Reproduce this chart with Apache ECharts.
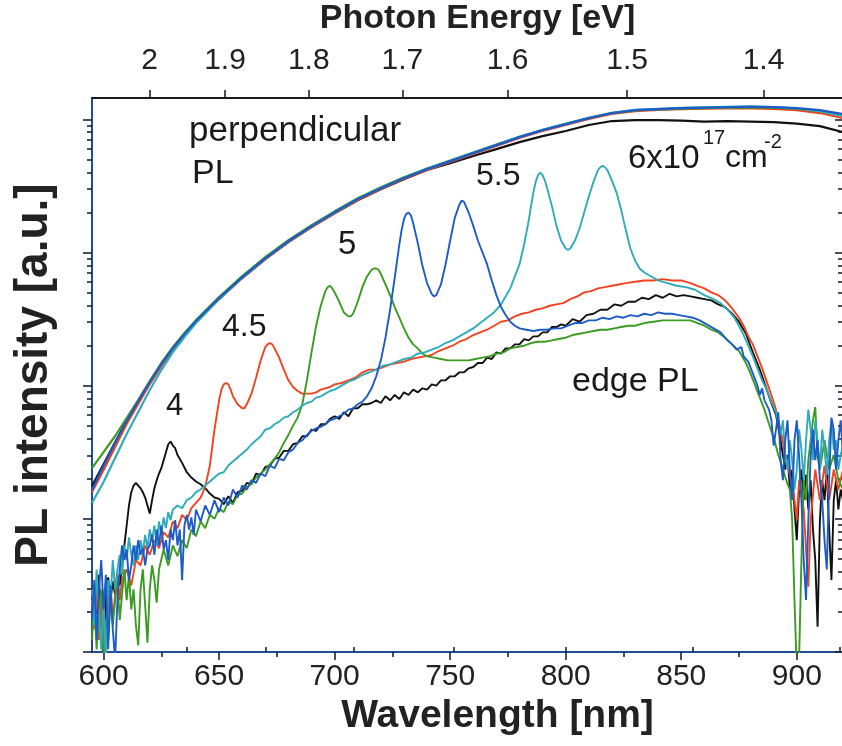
<!DOCTYPE html>
<html>
<head>
<meta charset="utf-8">
<script src="https://cdn.jsdelivr.net/npm/echarts@6/dist/echarts.min.js"></script>
<style>
  html, body { margin: 0; padding: 0; background: #ffffff; }
  #chart { width: 842px; height: 746px; }
</style>
</head>
<body>
<div id="chart"></div>
<script>
// Photon energy <-> wavelength conversion constant (eV * nm)
const HC = 1239.84;

// Axis ticks
const wavelengthTicks = [600, 650, 700, 750, 800, 850, 900];
const wavelengthMinorTicks = [625, 675, 725, 775, 825, 875];
const energyTicks = [2.0, 1.9, 1.8, 1.7, 1.6, 1.5, 1.4];
const energyMinorTicks = [2.05, 1.95, 1.85, 1.75, 1.65, 1.55, 1.45, 1.35];
const intensityDecades = [0, 1, 2, 3, 4];          // log10 of PL intensity
const intensityMinorFactors = [2, 3, 4, 5, 6, 7, 8, 9];

// Perpendicular PL (log10 intensity on a common wavelength grid)
const perpWavelength = [595,600,605,610,615,620,625,630,635,640,650,660,670,680,690,700,710,720,730,740,750,760,770,780,790,800,810,820,830,840,850,860,870,880,890,900,910,920];
const perpBlack = [1.246,1.410,1.575,1.738,1.886,2.027,2.160,2.280,2.384,2.480,2.652,2.808,2.950,3.078,3.190,3.295,3.392,3.474,3.550,3.619,3.671,3.724,3.776,3.829,3.874,3.912,3.957,3.987,3.994,3.994,3.990,3.983,3.987,3.983,3.979,3.968,3.949,3.904];
const perpRed   = [1.201,1.366,1.539,1.712,1.862,2.012,2.147,2.267,2.380,2.477,2.650,2.808,2.950,3.079,3.191,3.296,3.394,3.476,3.553,3.620,3.680,3.740,3.800,3.860,3.913,3.958,4.003,4.040,4.062,4.070,4.076,4.080,4.082,4.082,4.078,4.069,4.047,4.009];
const perpGreen = [1.381,1.501,1.622,1.757,1.892,2.035,2.170,2.290,2.395,2.492,2.665,2.822,2.965,3.092,3.205,3.309,3.407,3.489,3.564,3.630,3.690,3.750,3.810,3.868,3.920,3.966,4.010,4.046,4.066,4.074,4.080,4.084,4.088,4.090,4.087,4.078,4.062,4.030];
const perpCyan  = [1.119,1.276,1.456,1.637,1.802,1.967,2.117,2.252,2.365,2.470,2.650,2.810,2.955,3.083,3.196,3.302,3.401,3.484,3.560,3.628,3.688,3.748,3.808,3.868,3.921,3.966,4.011,4.049,4.071,4.079,4.086,4.090,4.093,4.095,4.091,4.082,4.062,4.025];
const perpBlue  = [1.216,1.396,1.569,1.734,1.884,2.027,2.162,2.282,2.387,2.485,2.658,2.815,2.958,3.086,3.198,3.303,3.401,3.483,3.559,3.626,3.686,3.746,3.806,3.866,3.919,3.964,4.009,4.047,4.069,4.077,4.084,4.088,4.092,4.095,4.092,4.084,4.069,4.039];

// Edge PL, [wavelength nm, log10 intensity]
const edge4 = [[595,0.39],[596,0.50],[597,0.28],[598,0.58],[599,0.17],[600,-0.06],[601,0.47],[602,0.56],[603,0.39],[604,0.53],[605,0.43],[606,0.58],[607,0.50],[608,0.63],[609,0.80],[610,0.95],[611,1.10],[612,1.20],[613,1.25],[614,1.27],[615,1.25],[616,1.23],[617,1.20],[618,1.16],[619,1.10],[620,1.04],[621,1.14],[622,1.23],[623,1.29],[624,1.34],[625,1.38],[626,1.44],[627,1.50],[628,1.56],[629,1.58],[630,1.55],[631,1.53],[632,1.48],[634,1.42],[636,1.35],[638,1.31],[640,1.28],[642,1.26],[644,1.23],[646,1.19],[648,1.16],[650,1.15],[652,1.11],[654,1.17],[656,1.12],[658,1.20],[660,1.21],[662,1.27],[664,1.26],[666,1.34],[668,1.33],[670,1.39],[672,1.40],[674,1.45],[676,1.46],[678,1.51],[680,1.51],[682,1.56],[684,1.57],[686,1.62],[688,1.62],[690,1.67],[692,1.66],[694,1.71],[696,1.71],[698,1.75],[700,1.77],[702,1.75],[704,1.80],[706,1.77],[708,1.83],[710,1.83],[712,1.86],[714,1.86],[716,1.87],[718,1.89],[720,1.87],[722,1.92],[724,1.89],[726,1.93],[728,1.90],[730,1.95],[732,1.93],[734,1.97],[736,1.95],[738,1.98],[740,1.97],[742,2.01],[744,2.00],[746,2.04],[748,2.04],[750,2.07],[752,2.07],[754,2.10],[756,2.10],[758,2.13],[760,2.14],[762,2.17],[764,2.17],[766,2.21],[768,2.20],[770,2.25],[772,2.24],[774,2.28],[776,2.28],[778,2.31],[780,2.31],[782,2.35],[784,2.34],[786,2.37],[788,2.37],[790,2.40],[792,2.40],[794,2.44],[796,2.44],[798,2.46],[800,2.45],[803,2.50],[806,2.48],[809,2.53],[812,2.54],[815,2.57],[818,2.57],[821,2.61],[824,2.60],[827,2.63],[830,2.63],[833,2.66],[836,2.65],[839,2.68],[842,2.66],[845,2.69],[848,2.67],[851,2.68],[854,2.67],[857,2.66],[860,2.65],[863,2.64],[866,2.61],[869,2.59],[872,2.54],[875,2.48],[878,2.39],[881,2.25],[884,2.12],[887,1.97],[889,1.87],[891,1.78],[893,1.59],[895,1.37],[896,1.48],[897,1.22],[898,1.37],[899,1.07],[900,0.84],[901,1.22],[902,1.37],[903,1.14],[904,1.33],[905,1.07],[906,1.29],[907,0.92],[908,0.69],[909,0.19],[910,0.99],[911,1.29],[912,1.14],[913,1.37],[914,0.92],[915,0.54],[916,1.14],[917,1.29],[918,1.07],[919,1.22],[920,1.14]];

const edge45 = [[595,0.39],[596,0.17],[597,0.47],[598,0.09],[599,0.39],[600,0.28],[601,-0.06],[602,0.39],[603,0.50],[604,0.24],[605,0.43],[606,0.58],[607,0.39],[608,0.54],[610,0.62],[612,0.50],[614,0.69],[616,0.65],[618,0.80],[620,0.73],[622,0.84],[624,0.78],[626,0.90],[628,0.86],[630,0.98],[632,0.93],[634,1.03],[636,0.99],[638,1.08],[640,1.12],[642,1.16],[644,1.24],[646,1.40],[648,1.67],[650,1.89],[651,1.97],[652,2.01],[653,2.02],[654,2.01],[655,1.97],[656,1.92],[658,1.86],[660,1.83],[661,1.83],[662,1.86],[664,1.94],[666,2.06],[668,2.19],[670,2.29],[671,2.31],[672,2.32],[673,2.31],[674,2.28],[676,2.21],[678,2.12],[680,2.04],[682,1.99],[684,1.96],[686,1.94],[688,1.94],[690,1.94],[692,1.95],[694,1.97],[696,1.98],[698,1.99],[700,2.01],[703,2.02],[706,2.04],[709,2.06],[712,2.10],[715,2.12],[718,2.12],[721,2.14],[724,2.16],[727,2.17],[730,2.18],[733,2.20],[736,2.21],[739,2.22],[742,2.23],[745,2.26],[748,2.28],[751,2.30],[754,2.33],[757,2.35],[760,2.38],[763,2.40],[766,2.42],[769,2.45],[772,2.48],[775,2.49],[778,2.52],[781,2.54],[784,2.55],[787,2.57],[790,2.58],[793,2.60],[796,2.61],[799,2.62],[802,2.65],[805,2.67],[808,2.70],[811,2.71],[814,2.73],[817,2.74],[820,2.75],[823,2.76],[826,2.77],[830,2.78],[834,2.79],[838,2.79],[842,2.80],[846,2.79],[850,2.79],[854,2.77],[857,2.75],[860,2.73],[863,2.70],[866,2.68],[869,2.64],[872,2.58],[875,2.51],[877,2.45],[879,2.37],[881,2.31],[883,2.22],[885,2.13],[887,2.03],[889,1.93],[891,1.82],[893,1.67],[895,1.48],[897,1.33],[899,1.14],[900,0.99],[901,1.29],[903,1.07],[905,0.49],[906,0.99],[908,1.37],[910,1.14],[912,1.40],[914,1.14],[916,1.37],[918,1.22],[920,1.37]];

const edge5 = [[595,0.09],[596,0.39],[597,0.02],[598,0.32],[599,0.47],[600,-0.06],[601,0.24],[602,0.09],[603,0.39],[604,0.20],[605,0.39],[606,0.54],[607,0.24],[608,0.43],[609,0.62],[610,0.39],[611,0.58],[612,0.32],[613,0.47],[614,0.20],[615,0.05],[616,0.47],[617,0.62],[618,0.35],[619,0.07],[620,0.47],[621,0.65],[622,0.54],[623,0.37],[624,0.62],[626,0.77],[628,0.65],[630,0.80],[632,0.72],[634,0.84],[636,0.78],[638,0.92],[640,0.87],[642,0.98],[644,0.93],[646,1.03],[648,1.00],[650,1.08],[652,1.05],[654,1.13],[656,1.11],[658,1.18],[660,1.19],[662,1.24],[664,1.26],[666,1.31],[668,1.34],[670,1.37],[672,1.41],[674,1.45],[676,1.50],[678,1.57],[680,1.63],[682,1.70],[684,1.76],[686,1.86],[688,2.04],[690,2.25],[692,2.45],[694,2.60],[696,2.71],[697,2.74],[698,2.75],[699,2.73],[700,2.70],[702,2.63],[704,2.55],[706,2.52],[707,2.52],[708,2.54],[710,2.63],[712,2.74],[714,2.82],[716,2.87],[717,2.88],[718,2.88],[719,2.87],[720,2.84],[722,2.76],[724,2.68],[726,2.59],[728,2.51],[730,2.43],[732,2.36],[734,2.31],[736,2.28],[738,2.24],[740,2.22],[743,2.21],[746,2.20],[749,2.19],[752,2.19],[755,2.19],[758,2.19],[761,2.20],[764,2.21],[767,2.22],[770,2.24],[773,2.25],[776,2.28],[779,2.29],[782,2.30],[785,2.32],[788,2.33],[791,2.33],[794,2.34],[797,2.35],[800,2.36],[803,2.38],[806,2.39],[809,2.40],[812,2.41],[815,2.42],[818,2.42],[821,2.43],[824,2.44],[827,2.45],[830,2.45],[834,2.47],[838,2.48],[842,2.49],[846,2.49],[850,2.49],[854,2.49],[857,2.47],[860,2.45],[863,2.42],[866,2.40],[869,2.36],[872,2.31],[875,2.26],[878,2.17],[880,2.09],[882,2.00],[884,1.91],[886,1.82],[888,1.71],[890,1.61],[892,1.48],[894,1.37],[896,1.26],[897,1.22],[898,0.99],[899,0.39],[900,-0.14],[901,-0.06],[902,0.69],[903,1.29],[904,1.14],[905,1.44],[906,1.59],[907,1.74],[908,1.84],[909,1.47],[910,1.37],[912,1.59],[914,1.37],[916,1.48],[918,1.29],[920,1.22]];

const edge55 = [[595,0.24],[596,0.54],[597,0.09],[598,0.47],[599,0.69],[600,0.32],[601,0.58],[602,0.02],[603,0.50],[604,0.17],[605,-0.06],[606,0.39],[607,0.62],[608,0.80],[609,0.69],[610,0.77],[611,0.54],[612,0.65],[613,0.80],[614,0.69],[615,0.84],[616,0.73],[617,0.78],[618,0.65],[619,0.77],[620,0.80],[621,0.88],[622,0.73],[623,0.92],[624,0.80],[625,0.95],[626,0.77],[627,0.84],[628,0.69],[629,0.92],[630,0.84],[631,0.99],[632,0.80],[633,0.92],[634,0.54],[635,0.95],[636,1.03],[637,0.92],[638,1.01],[639,0.88],[640,1.07],[642,0.98],[644,1.10],[646,1.03],[648,1.14],[650,1.05],[652,1.16],[654,1.10],[656,1.22],[658,1.16],[660,1.25],[662,1.22],[664,1.29],[666,1.27],[668,1.34],[670,1.32],[672,1.40],[674,1.38],[676,1.45],[678,1.44],[680,1.50],[682,1.52],[684,1.57],[686,1.59],[688,1.63],[690,1.66],[692,1.68],[694,1.69],[696,1.71],[698,1.74],[700,1.75],[702,1.77],[704,1.79],[706,1.82],[708,1.83],[710,1.86],[712,1.88],[714,1.92],[716,1.98],[718,2.07],[720,2.19],[722,2.36],[724,2.57],[726,2.81],[728,3.06],[729,3.17],[730,3.25],[731,3.29],[732,3.30],[733,3.28],[734,3.22],[736,3.07],[738,2.90],[740,2.77],[742,2.69],[743,2.67],[744,2.68],[746,2.76],[748,2.91],[750,3.09],[752,3.26],[754,3.36],[755,3.39],[756,3.38],[758,3.30],[760,3.20],[762,3.09],[764,3.00],[766,2.91],[768,2.79],[770,2.68],[772,2.59],[774,2.53],[776,2.48],[778,2.45],[780,2.43],[783,2.42],[786,2.41],[789,2.42],[792,2.42],[795,2.43],[798,2.43],[801,2.45],[804,2.47],[807,2.47],[810,2.49],[813,2.49],[816,2.51],[819,2.50],[822,2.52],[825,2.51],[828,2.53],[831,2.52],[834,2.54],[837,2.53],[840,2.55],[843,2.54],[846,2.54],[849,2.53],[852,2.52],[855,2.51],[858,2.49],[861,2.46],[864,2.43],[867,2.40],[870,2.34],[872,2.31],[874,2.27],[876,2.29],[877,2.22],[879,2.18],[881,2.09],[883,2.00],[884,1.93],[885,1.98],[886,1.89],[888,1.82],[889,1.74],[890,1.55],[891,1.67],[892,1.80],[893,1.44],[894,1.29],[895,1.59],[896,1.74],[897,1.37],[898,1.14],[899,1.59],[900,1.74],[901,1.47],[902,1.14],[903,0.69],[904,0.39],[905,0.99],[906,1.47],[907,1.67],[908,1.44],[909,1.59],[910,1.29],[911,1.14],[912,0.84],[913,0.62],[914,1.29],[915,1.76],[916,1.67],[917,1.37],[918,1.59],[919,1.74],[920,1.47]];

const edge6 = [[595,0.47],[596,0.20],[597,0.62],[598,0.32],[599,0.02],[600,0.43],[601,-0.10],[602,0.54],[603,0.39],[604,0.69],[605,0.47],[606,0.62],[607,0.73],[608,0.58],[609,0.80],[610,0.69],[611,0.86],[612,0.73],[613,0.65],[614,0.80],[615,0.69],[616,0.84],[617,0.75],[618,0.88],[619,0.78],[620,0.92],[621,0.84],[622,0.95],[623,0.80],[624,0.98],[625,0.88],[626,1.01],[627,0.93],[628,1.05],[629,0.99],[630,1.07],[632,1.10],[634,1.08],[636,1.14],[638,1.16],[640,1.20],[642,1.22],[644,1.25],[646,1.28],[648,1.31],[650,1.34],[652,1.35],[654,1.40],[656,1.43],[658,1.46],[660,1.49],[662,1.52],[664,1.56],[666,1.59],[668,1.62],[670,1.67],[672,1.68],[674,1.71],[676,1.73],[678,1.76],[680,1.77],[682,1.80],[684,1.82],[686,1.85],[688,1.87],[690,1.88],[692,1.91],[694,1.92],[696,1.94],[698,1.96],[700,1.97],[703,2.00],[706,2.03],[709,2.05],[712,2.08],[715,2.10],[718,2.12],[721,2.15],[724,2.16],[727,2.18],[730,2.20],[733,2.21],[736,2.24],[739,2.25],[742,2.27],[745,2.29],[748,2.32],[751,2.34],[754,2.37],[757,2.40],[760,2.43],[763,2.47],[766,2.51],[769,2.55],[772,2.61],[774,2.67],[776,2.73],[778,2.82],[780,2.91],[782,3.06],[784,3.24],[785,3.35],[786,3.45],[787,3.53],[788,3.58],[789,3.60],[790,3.58],[791,3.54],[792,3.48],[794,3.35],[796,3.20],[798,3.09],[800,3.03],[801,3.02],[802,3.03],[804,3.09],[806,3.18],[808,3.30],[810,3.42],[812,3.53],[814,3.62],[815,3.64],[816,3.65],[817,3.64],[818,3.62],[820,3.54],[822,3.45],[824,3.32],[826,3.17],[828,3.03],[830,2.94],[832,2.88],[834,2.85],[837,2.82],[840,2.79],[844,2.77],[848,2.75],[852,2.74],[856,2.72],[860,2.68],[864,2.65],[867,2.62],[870,2.57],[873,2.51],[875,2.45],[877,2.38],[879,2.30],[881,2.22],[883,2.13],[885,2.04],[887,1.97],[889,1.88],[891,1.80],[893,1.63],[894,1.74],[895,1.48],[896,1.37],[897,1.59],[898,1.44],[899,1.22],[900,1.37],[901,1.67],[902,1.52],[903,1.29],[904,1.59],[905,1.82],[906,1.67],[907,1.44],[908,1.74],[909,1.59],[910,1.37],[911,1.67],[912,1.52],[913,1.33],[914,1.59],[915,1.74],[916,1.52],[917,1.59],[918,1.37],[919,1.48],[920,1.55]];

const COLORS = {
  black: '#111111',
  red: '#f2431f',
  green: '#3b9b22',
  blue: '#1d5cc6',
  cyan: '#2fabb9'
};

const AXIS_BLUE = '#1f4c96';
const TICK = '#1d2433';
const LABEL_FONT = '"Liberation Sans Narrow", "Liberation Sans", Arial, sans-serif';
const TITLE_FONT = '"Liberation Sans", Arial, sans-serif';

const yMin = 0, yMax = 4.16;
const yMajor = intensityDecades;
const yMinor = [];
intensityDecades.forEach(d => intensityMinorFactors.forEach(k => {
  const v = d + Math.log10(k);
  if (v < yMax) yMinor.push(v);
}));

const toWl = e => HC / e;
const xMin = 595, xMax = 920;

function xAxisBase(pos) {
  return {
    type: 'value', position: pos, min: xMin, max: xMax,
    splitLine: { show: false },
    axisLine: { show: false },
    axisTick: { show: false },
    axisLabel: { show: false }
  };
}

const xAxes = [
  // bottom: wavelength
  Object.assign(xAxisBase('bottom'), {
    axisLine: { show: true, onZero: false, lineStyle: { color: AXIS_BLUE, width: 2 } },
    axisTick: { show: true, customValues: wavelengthTicks, length: 8, lineStyle: { color: TICK, width: 1.6 } },
    axisLabel: { show: true, customValues: wavelengthTicks, margin: 10, fontSize: 30, fontFamily: LABEL_FONT, color: '#222' },
    name: 'Wavelength [nm]', nameLocation: 'middle', nameGap: 40,
    nameTextStyle: { fontSize: 39, fontWeight: 'bold', fontFamily: TITLE_FONT, color: '#222', padding: [0, 0, 0, 60] }
  }),
  Object.assign(xAxisBase('bottom'), {
    axisTick: { show: true, customValues: wavelengthMinorTicks, length: 5, lineStyle: { color: TICK, width: 1.6 } }
  }),
  // top: photon energy
  Object.assign(xAxisBase('top'), {
    axisLine: { show: true, onZero: false, lineStyle: { color: '#1a1a1a', width: 2 } },
    axisTick: { show: true, customValues: energyTicks.map(toWl), length: 8, lineStyle: { color: TICK, width: 1.6 } },
    axisLabel: {
      show: true, customValues: energyTicks.map(toWl), margin: 22, fontSize: 30, fontFamily: LABEL_FONT, color: '#222',
      formatter: v => String(Math.round(HC / v * 10) / 10)
    },
    name: 'Photon Energy [eV]', nameLocation: 'middle', nameGap: 62,
    nameTextStyle: { fontSize: 34, fontWeight: 'bold', fontFamily: TITLE_FONT, color: '#222', padding: [0, 0, 0, 20] }
  }),
  Object.assign(xAxisBase('top'), {
    axisTick: { show: true, customValues: energyMinorTicks.map(toWl), length: 5, lineStyle: { color: TICK, width: 1.6 } }
  })
];

function yAxisBase(pos) {
  return {
    type: 'value', position: pos, min: yMin, max: yMax,
    splitLine: { show: false },
    axisLine: { show: false },
    axisTick: { show: false },
    axisLabel: { show: false }
  };
}

const yAxes = [
  Object.assign(yAxisBase('left'), {
    axisLine: { show: true, onZero: false, lineStyle: { color: AXIS_BLUE, width: 2 } },
    axisTick: { show: true, customValues: yMajor, length: 9, lineStyle: { color: TICK, width: 1.6 } },
    name: 'PL intensity [a.u.]', nameLocation: 'middle', nameGap: 35,
    nameTextStyle: { fontSize: 46, fontWeight: 'bold', fontFamily: TITLE_FONT, color: '#222' }
  }),
  Object.assign(yAxisBase('left'), {
    axisTick: { show: true, customValues: yMinor, length: 5, lineStyle: { color: TICK, width: 1.6 } }
  }),
  Object.assign(yAxisBase('right'), {
    axisLine: { show: true, onZero: false, lineStyle: { color: AXIS_BLUE, width: 2 } },
    axisTick: { show: true, inside: true, customValues: yMajor, length: 8, lineStyle: { color: TICK, width: 1.6 } }
  }),
  Object.assign(yAxisBase('right'), {
    axisTick: { show: true, inside: true, customValues: yMinor, length: 5, lineStyle: { color: TICK, width: 1.6 } }
  })
];

function lineSeries(name, data, color, width, z) {
  return {
    name, type: 'line', data, xAxisIndex: 0, yAxisIndex: 0,
    showSymbol: false, symbol: 'none', smooth: false, clip: true,
    lineStyle: { color, width }, z, silent: true
  };
}

const perpPairs = vals => perpWavelength.map((w, i) => [w, vals[i]]);

const series = [
  lineSeries('perpendicular 4', perpPairs(perpBlack), COLORS.black, 2.2, 2),
  lineSeries('perpendicular 4.5', perpPairs(perpRed), COLORS.red, 2.2, 2),
  lineSeries('perpendicular 5', perpPairs(perpGreen), COLORS.green, 2.2, 2),
  lineSeries('perpendicular 6', perpPairs(perpCyan), COLORS.cyan, 2.2, 2),
  lineSeries('perpendicular 5.5', perpPairs(perpBlue), COLORS.blue, 2.2, 2),
  lineSeries('edge 4', edge4, COLORS.black, 1.9, 3),
  lineSeries('edge 4.5', edge45, COLORS.red, 1.9, 3),
  lineSeries('edge 5', edge5, COLORS.green, 1.9, 3),
  lineSeries('edge 6', edge6, COLORS.cyan, 1.9, 3),
  lineSeries('edge 5.5', edge55, COLORS.blue, 1.9, 3)
];

// Text annotations
const ANN_FONT = '"Liberation Sans", Arial, sans-serif';
function note(text, x, y, size) {
  return {
    type: 'text', x, y, z: 10, silent: true,
    style: { text, fill: '#1a1a1a', font: size + 'px ' + ANN_FONT, verticalAlign: 'middle', align: 'left' }
  };
}
const annotations = [
  note('perpendicular', 189, 131, 35),
  note('PL', 192, 174, 34),
  note('4', 166, 406, 31),
  note('4.5', 222, 327, 32),
  note('5', 338, 245, 33),
  note('5.5', 476, 176, 32),
  note('6x10', 628, 159, 33),
  note('17', 703, 138, 20),
  note('cm', 725, 158, 32),
  note('-2', 764, 142, 20),
  note('edge PL', 572, 382, 34)
];

const chart = echarts.init(document.getElementById('chart'), null, { renderer: 'canvas' });
chart.setOption({
  animation: false,
  backgroundColor: '#ffffff',
  grid: { left: 92, right: -1, top: 98, bottom: 94, containLabel: false, outerBoundsMode: 'none' },
  xAxis: xAxes,
  yAxis: yAxes,
  series,
  graphic: annotations
});
</script>
</body>
</html>
